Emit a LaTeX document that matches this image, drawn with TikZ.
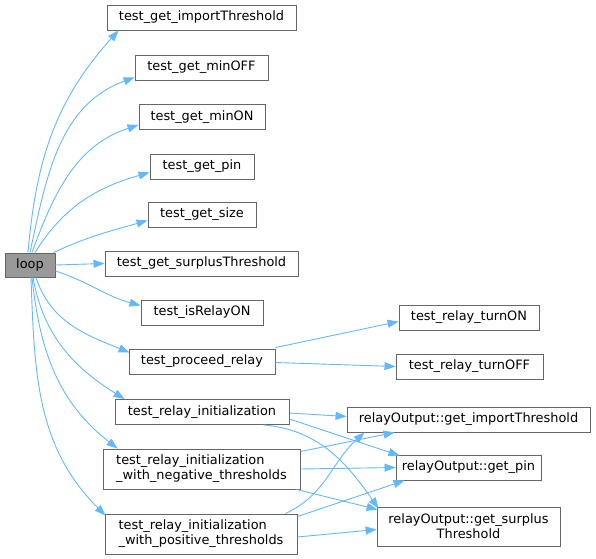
\documentclass[tikz,border=0pt]{standalone}
\usepackage{fontspec}
\setmainfont{DejaVu Sans}
\usetikzlibrary{arrows.meta}
\definecolor{edgeblue}{HTML}{63B8FF}
\definecolor{boxline}{HTML}{666666}
\definecolor{loopfill}{HTML}{999999}
\begin{document}
\begin{tikzpicture}[
    x=1bp, y=1bp,
    fn/.style={draw=boxline, fill=white, line width=0.9bp, rectangle, minimum height=25bp, inner sep=2bp, font=\fontsize{12.9bp}{15bp}\selectfont},
    fntwo/.style={fn, minimum height=40bp},
    rootfn/.style={fn, fill=loopfill},
    call/.style={-{Triangle[length=11bp, width=8bp]}, edgeblue, line width=0.9bp}
]
\useasboundingbox (0,0) rectangle (596,-559);

% Root function
\node[rootfn, minimum width=50bp, minimum height=24bp] (loop) at (30,-265) {loop};

% Test functions called by loop
\node[fn, minimum width=189bp] (getimp) at (201.5,-17.5) {test\_get\_importThreshold};
\node[fn, minimum width=133bp] (getminoff) at (201.5,-67.5) {test\_get\_minOFF};
\node[fn, minimum width=126bp] (getminon) at (202,-117) {test\_get\_minON};
\node[fn, minimum width=104bp] (getpin) at (202,-166.5) {test\_get\_pin};
\node[fn, minimum width=108bp] (getsize) at (202,-214.5) {test\_get\_size};
\node[fn, minimum width=193bp] (getsurplus) at (201.5,-263.5) {test\_get\_surplusThreshold};
\node[fn, minimum width=122bp] (isrelayon) at (202,-312.5) {test\_isRelayON};
\node[fn, minimum width=146bp] (proceed) at (202,-361.5) {test\_proceed\_relay};
\node[fn, minimum width=174bp] (relayinit) at (202,-412) {test\_relay\_initialization};
\node[fntwo, minimum width=197bp, align=left] (initneg) at (201.5,-469) {test\_relay\_initialization\\\_with\_negative\_thresholds};
\node[fntwo, minimum width=192bp, align=left] (initpos) at (201,-534) {test\_relay\_initialization\\\_with\_positive\_thresholds};

% Second level
\node[fn, minimum width=140bp] (turnon) at (469,-317.5) {test\_relay\_turnON};
\node[fn, minimum width=147bp] (turnoff) at (469.5,-366.5) {test\_relay\_turnOFF};
\node[fn, minimum width=243bp] (outimp) at (468.5,-419.5) {relayOutput::get\_importThreshold};
\node[fn, minimum width=145bp] (outpin) at (468.5,-467.5) {relayOutput::get\_pin};
\node[fntwo, minimum width=183bp, minimum height=39bp, align=center] (outsurplus) at (468.5,-526.5) {relayOutput::get\_surplus\\Threshold};

% Calls from loop
\draw[call] ([xshift=-2bp]loop.north) to[out=85, in=228] ([xshift=12bp]getimp.south west);
\draw[call] (loop.north) to[out=78, in=200] ([yshift=3bp]getminoff.south west);
\draw[call] ([xshift=2bp]loop.north) to[out=70, in=198] ([yshift=5bp]getminon.south west);
\draw[call] ([xshift=5bp]loop.north) to[out=58, in=196] ([yshift=7bp]getpin.south west);
\draw[call] ([xshift=-2bp]loop.north east) to[out=25, in=196] ([yshift=7bp]getsize.south west);
\draw[call] (loop.east) -- (getsurplus.west);
\draw[call] ([yshift=-6bp]loop.east) to[out=-18, in=165] ([yshift=7bp]isrelayon.west);
\draw[call] ([xshift=6bp]loop.south) to[out=-72, in=158] ([xshift=1bp, yshift=-4bp]proceed.north west);
\draw[call] ([xshift=3bp]loop.south) to[out=-80, in=148] ([xshift=10bp]relayinit.north west);
\draw[call] ([xshift=2bp]loop.south) to[out=-84, in=142] ([xshift=15bp]initneg.north west);
\draw[call] ([xshift=1bp]loop.south) to[out=-88, in=135] ([xshift=1bp,yshift=-2bp]initpos.north west);

% Calls from second column
\draw[call] ([yshift=1bp]proceed.north east) -- ([yshift=-4bp]turnon.west);
\draw[call] ([yshift=-1bp]proceed.east) -- (turnoff.west);
\draw[call] ([yshift=-1bp]relayinit.east) -- ([yshift=3bp]outimp.west);
\draw[call] ([yshift=-7bp]relayinit.east) -- ([xshift=4bp,yshift=-1bp]outpin.north west);
\draw[call] ([xshift=-26bp]relayinit.south east) to[out=-5, in=125] ([xshift=2bp,yshift=-2bp]outsurplus.north west);
\draw[call] ([yshift=-3bp]initneg.north east) -- ([xshift=48bp]outimp.south west);
\draw[call] (initneg.east) -- (outpin.west);
\draw[call] ([xshift=-4bp]initneg.south east) -- ([xshift=1bp,yshift=-3bp]outsurplus.north west);
\draw[call] ([xshift=-12bp]initpos.north east) to[out=25, in=222] ([xshift=18bp]outimp.south west);
\draw[call] ([yshift=-3bp]initpos.north east) -- ([xshift=9bp]outpin.south west);
\draw[call] ([yshift=-3bp]initpos.east) -- ([yshift=-3bp]outsurplus.west);
\end{tikzpicture}
\end{document}
